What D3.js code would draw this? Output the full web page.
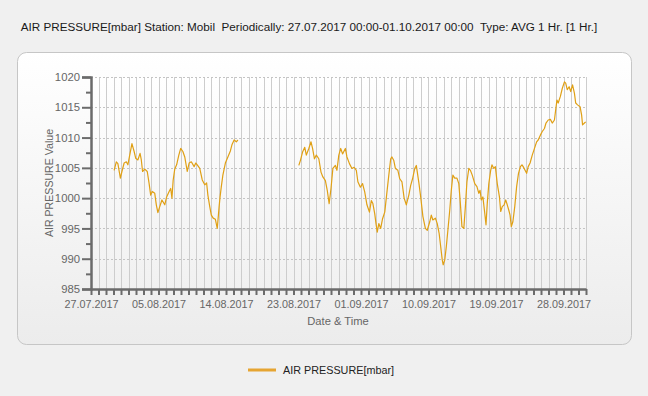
<!DOCTYPE html>
<html>
<head>
<meta charset="utf-8">
<script src="https://cdn.jsdelivr.net/npm/d3@7"></script>
<style>
  body { margin: 0; background: #f0f0f0; }
  svg { display: block; font-family: "Liberation Sans", Arial, sans-serif; }
</style>
</head>
<body>
<svg id="chart" width="648" height="396"></svg>
<script>
// hours after 27.07.2017 00:00 and the hourly avg values
const seg1Hours = [74,81,86,94,99,106,113,118,125,131,138,143,150,157,161,165,172,180,186,191,196,204,209,214,220,227,236,242,250,255,259,263,268,274,281,287,294,300,308,314,321,330,335,340,348,356,364,370,374,380,385,391,398,404,410,413,417,422,430,438,446,451,458,465,470];
const seg1Values = [1004.6,1006.0,1005.7,1003.3,1004.4,1005.8,1006.0,1005.5,1007.4,1009.0,1007.7,1006.6,1006.3,1007.4,1006.3,1004.4,1004.8,1004.4,1002.4,1000.5,1001.1,1000.8,998.9,997.6,998.6,999.7,998.9,1000.2,1001.1,1001.6,1000.0,1003.0,1004.8,1005.5,1007.1,1008.2,1007.7,1006.8,1004.4,1005.8,1006.0,1005.2,1005.8,1005.5,1004.9,1003.0,1002.2,1002.5,1000.5,998.6,997.2,996.7,996.5,995.0,998.6,1000.2,1001.9,1003.8,1005.8,1006.8,1007.8,1008.8,1009.6,1009.3,1009.6];

const seg2Hours = [665,670,677,684,689,697,704,709,715,721,729,736,742,750,756,762,768,774,782,787,793,799,805,814,819,827,835,842,849,854,862,869,876,883,891,897,902,908,912,916,921,927,933,940,947,953,959,963,969,974,982,988,995,1002,1009,1017,1023,1029,1036,1041,1049,1055,1062,1070,1076,1084,1089,1094,1102,1108,1114,1119,1124,1127,1132,1137,1142,1148,1153,1158,1164,1171,1177,1182,1187,1193,1198,1203,1209,1214,1220,1228,1235,1241,1245,1249,1254,1260,1264,1268,1273,1279,1283,1289,1294,1300,1307,1311,1316,1322,1327,1332,1337,1341,1345,1350,1356,1362,1368,1374,1379,1383,1389,1394,1399,1405,1412,1421,1426,1431,1438,1444,1451,1456,1463,1470,1476,1483,1487,1491,1495,1502,1508,1515,1519,1524,1530,1535,1541,1547,1551,1557,1565,1570,1573,1579,1583];
const seg2Values = [1005.4,1006.2,1007.6,1008.4,1007.1,1008.2,1009.3,1008.2,1006.5,1007.1,1006.5,1004.3,1003.5,1002.9,1001.3,999.1,1001.6,1004.9,1005.4,1004.6,1007.1,1008.2,1007.3,1008.2,1006.8,1005.7,1004.9,1005.1,1004.6,1002.7,1001.8,1002.4,1001.0,998.9,997.7,999.6,999.1,997.4,995.8,994.4,995.8,995.0,996.6,997.7,1001.0,1003.8,1006.5,1006.8,1006.2,1004.9,1004.6,1003.2,1002.7,1000.0,998.9,1000.5,1002.1,1003.2,1004.9,1005.4,1002.6,1000.2,997.0,995.0,994.7,996.1,997.2,996.4,996.7,995.8,994.2,992.0,989.8,989.0,989.8,992.0,994.7,998.0,1001.3,1003.8,1003.3,1003.3,1002.4,999.1,995.3,995.0,998.6,1002.7,1004.9,1004.6,1003.8,1002.4,1001.9,1000.8,1001.3,999.7,1000.2,997.5,995.6,999.1,1002.4,1004.6,1005.5,1004.9,1005.2,1002.4,1000.2,997.8,998.6,998.9,999.7,998.9,998.0,997.2,995.3,996.1,998.6,1001.9,1004.1,1005.2,1005.5,1005.2,1004.6,1004.1,1005.2,1005.8,1007.1,1008.5,1009.3,1009.6,1010.4,1011.0,1011.5,1012.4,1012.9,1013.0,1012.4,1012.9,1014.6,1016.2,1015.7,1016.8,1018.1,1019.2,1019.0,1017.9,1018.4,1017.6,1018.7,1017.3,1015.7,1015.4,1015.1,1013.7,1012.1,1012.4,1012.6];

const yTicks = [985,990,995,1000,1005,1010,1015,1020];
const xTickLabels = ['27.07.2017','05.08.2017','14.08.2017','23.08.2017','01.09.2017','10.09.2017','19.09.2017','28.09.2017'];
const periodStart = '27.07.2017';
const periodEnd = '01.10.2017';

const titleText = 'AIR PRESSURE[mbar] Station: Mobil  Periodically: 27.07.2017 00:00-01.10.2017 00:00  Type: AVG 1 Hr. [1 Hr.]';
const seriesName = 'AIR PRESSURE[mbar]';
const lineColor = '#e0a015';

const parseDay = d3.timeParse('%d.%m.%Y');
const t0 = parseDay(periodStart);
const t1 = parseDay(periodEnd);

const svg = d3.select('#chart');
const defs = svg.append('defs');

const panelGrad = defs.append('linearGradient').attr('id', 'panelGrad')
  .attr('x1', 0).attr('y1', 0).attr('x2', 0).attr('y2', 1);
panelGrad.append('stop').attr('offset', '0%').attr('stop-color', '#ffffff');
panelGrad.append('stop').attr('offset', '100%').attr('stop-color', '#ececec');

const plotGrad = defs.append('linearGradient').attr('id', 'plotGrad')
  .attr('x1', 0).attr('y1', 0).attr('x2', 0).attr('y2', 1);
plotGrad.append('stop').attr('offset', '0%').attr('stop-color', '#ffffff');
plotGrad.append('stop').attr('offset', '100%').attr('stop-color', '#f1f1f1');

// title
svg.append('text')
  .attr('x', 309).attr('y', 31)
  .attr('text-anchor', 'middle')
  .attr('font-size', 11.7)
  .attr('fill', '#1a1a1a')
  .style('white-space', 'pre')
  .text(titleText);

// panel
svg.append('rect')
  .attr('x', 17.5).attr('y', 52.5)
  .attr('width', 614).attr('height', 292)
  .attr('rx', 9)
  .attr('fill', 'url(#panelGrad)')
  .attr('stroke', '#c6c6c6');

const x = d3.scaleTime().domain([t0, t1]).range([91, 586]);
const y = d3.scaleLinear().domain([985, 1020]).range([289, 77]);

svg.append('rect')
  .attr('x', 91).attr('y', 77)
  .attr('width', 495).attr('height', 212)
  .attr('fill', 'url(#plotGrad)');

// grid
const days = d3.timeDay.range(t0, d3.timeDay.offset(t1, 1));
svg.append('g').selectAll('line')
  .data(days)
  .join('line')
  .attr('x1', d => Math.round(x(d)) + 0.5).attr('x2', d => Math.round(x(d)) + 0.5)
  .attr('y1', 77).attr('y2', 289)
  .attr('stroke', '#cdcdcd');

svg.append('g').selectAll('line')
  .data(yTicks)
  .join('line')
  .attr('x1', 91).attr('x2', 586)
  .attr('y1', d => Math.round(y(d)) + 0.5).attr('y2', d => Math.round(y(d)) + 0.5)
  .attr('stroke', '#c4c4c4')
  .attr('stroke-dasharray', '2,2');

// series
const line = d3.line().x(d => x(d[0])).y(d => y(d[1]));
const seg1 = seg1Hours.map((h, i) => [d3.timeHour.offset(t0, h), seg1Values[i]]);
const seg2 = seg2Hours.map((h, i) => [d3.timeHour.offset(t0, h), seg2Values[i]]);
svg.append('g').selectAll('path')
  .data([seg1, seg2])
  .join('path')
  .attr('d', line)
  .attr('fill', 'none')
  .attr('stroke', lineColor)
  .attr('stroke-width', 1.2)
  .attr('stroke-linejoin', 'round');

// y axis
const minorY = d3.range(985, 1020.1, 2.5).filter(v => !yTicks.includes(v));
const yMinor = svg.append('g').attr('transform', 'translate(91,0)')
  .call(d3.axisLeft(y).tickValues(minorY).tickSize(5).tickFormat(''));
const yAxis = svg.append('g').attr('transform', 'translate(91,0)')
  .call(d3.axisLeft(y).tickValues(yTicks).tickSize(9).tickPadding(2).tickFormat(d3.format('d')));

// x axis
const xMinor = svg.append('g').attr('transform', 'translate(0,289)')
  .call(d3.axisBottom(x).tickValues(days).tickSize(6).tickFormat(''));
const xAxis = svg.append('g').attr('transform', 'translate(0,289)')
  .call(d3.axisBottom(x).tickValues(xTickLabels.map(parseDay)).tickSize(0).tickPadding(11)
    .tickFormat(d3.timeFormat('%d.%m.%Y')));

[yMinor, yAxis, xMinor, xAxis].forEach(g => {
  g.select('.domain').attr('stroke', '#6b6b6b').attr('stroke-width', 2.5);
  g.selectAll('.tick line').attr('stroke', '#6b6b6b').attr('stroke-width', 2);
  g.selectAll('.tick text').attr('fill', '#666').attr('font-size', 10.8)
    .attr('font-family', '"Liberation Sans", Arial, sans-serif');
});
yAxis.selectAll('.tick text').attr('font-size', 11.3);
yMinor.select('.domain').remove();
xMinor.select('.domain').remove();

// axis titles
svg.append('text')
  .attr('transform', 'translate(53,183) rotate(-90)')
  .attr('text-anchor', 'middle')
  .attr('font-size', 10.6)
  .attr('fill', '#666')
  .text('AIR PRESSURE Value');

svg.append('text')
  .attr('x', 338).attr('y', 325)
  .attr('text-anchor', 'middle')
  .attr('font-size', 11.2)
  .attr('fill', '#666')
  .text('Date & Time');

// legend
svg.append('line')
  .attr('x1', 248).attr('x2', 276)
  .attr('y1', 370).attr('y2', 370)
  .attr('stroke', '#e6a532')
  .attr('stroke-width', 3);
svg.append('text')
  .attr('x', 283).attr('y', 374)
  .attr('font-size', 10.8)
  .attr('fill', '#222')
  .text(seriesName);
</script>
</body>
</html>
